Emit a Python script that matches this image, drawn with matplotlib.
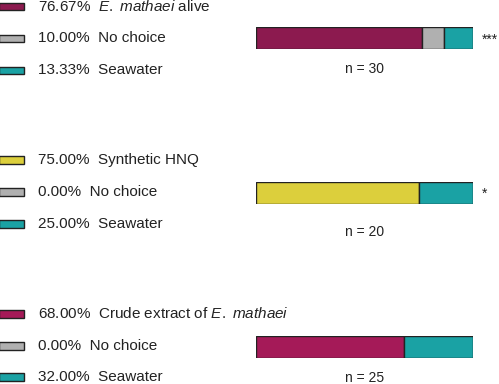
import matplotlib
matplotlib.use("Agg")
import matplotlib.pyplot as plt
import matplotlib.patches as mpatches

plt.rcParams['font.family'] = ['Liberation Sans', 'DejaVu Sans']
plt.rcParams['mathtext.fontset'] = 'custom'
plt.rcParams['mathtext.rm'] = 'Liberation Sans'
plt.rcParams['mathtext.it'] = 'Liberation Sans:italic'

# data
labels1 = [r'$\mathit{E.\ mathaei}$ alive', 'No choice', 'Seawater']
values1 = [76.67, 10.00, 13.33]
labels2 = ['Synthetic HNQ', 'No choice', 'Seawater']
values2 = [75.00, 0.00, 25.00]
labels3 = [r'Crude extract of $\mathit{E.\ mathaei}$', 'No choice', 'Seawater']
values3 = [68.00, 0.00, 32.00]
n_values = [30, 20, 25]
stars = ['***', '*', '']

magenta1 = '#8c1a4f'
magenta3 = '#a51a58'
grey = '#b0b0b0'
teal = '#1aa2a4'
yellow = '#dccf3c'
colors = [[magenta1, grey, teal], [yellow, grey, teal], [magenta3, grey, teal]]

W, H = 499, 384
fig = plt.figure(figsize=(W / 100, H / 100), dpi=100)
ax = fig.add_axes([0, 0, 1, 1])
ax.set_xlim(0, W)
ax.set_ylim(H, 0)
ax.axis('off')

groups = [(labels1, values1), (labels2, values2), (labels3, values3)]
legend_rows = [[6.5, 38.5, 70.5], [160, 192, 224], [314, 346, 377]]
bar_y = [(27, 49), (182, 204), (336, 358)]
n_y = [69, 232, 378]
star_y = [40, 194]

for g, (labs, vals) in enumerate(groups):
    # legend
    for r in range(3):
        yc = legend_rows[g][r]
        ax.add_patch(mpatches.Rectangle((-1, yc - 3.8), 25, 7.6,
                                        facecolor=colors[g][r], edgecolor='#222222', lw=1))
        ax.text(38, yc, '%.2f%%  %s' % (vals[r], labs[r]), fontsize=11,
                va='center', ha='left', color='#222222')
    # bar
    y0, y1 = bar_y[g]
    bax = fig.add_axes([256 / W, 1 - y1 / H, 217 / W, (y1 - y0) / H])
    left = 0
    for r in range(3):
        if vals[r] > 0:
            bax.barh(0, vals[r], left=left, height=1, color=colors[g][r],
                     edgecolor='#222222', lw=1)
        left += vals[r]
    bax.set_xlim(0, 100)
    bax.set_ylim(-0.5, 0.5)
    bax.axis('off')
    ax.text(365, n_y[g], 'n = %d' % n_values[g], fontsize=10, ha='center',
            va='center', color='#222222')
    if stars[g]:
        ax.text(482, star_y[g], stars[g], fontsize=10, ha='left', va='center',
                color='#222222')

fig.savefig('out.png', dpi=100)
